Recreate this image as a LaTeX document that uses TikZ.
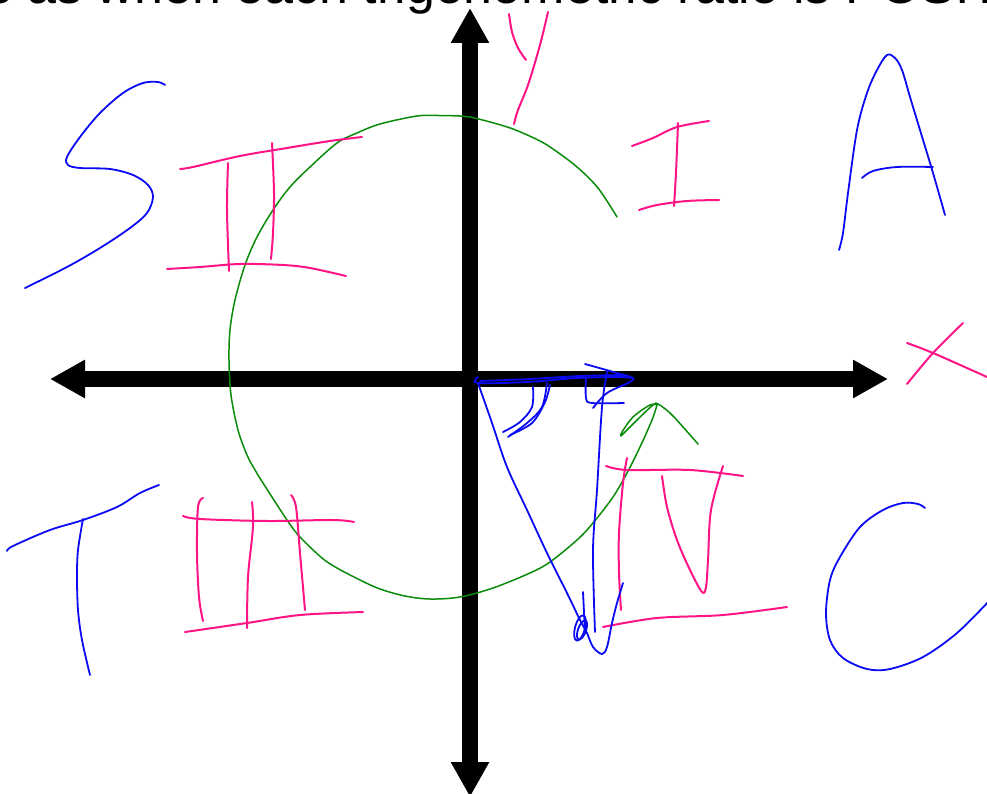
\documentclass[tikz,border=0pt]{standalone}
\usepackage{fontspec}
\setmainfont{Liberation Sans}
\usetikzlibrary{arrows.meta}
\definecolor{penpink}{RGB}{255,20,135}
\definecolor{penblue}{RGB}{10,10,245}
\definecolor{pengreen}{RGB}{10,140,10}
\tikzset{
  axis/.style={line width=16pt, -{Triangle[length=35pt,width=36pt]}},
  pinkpen/.style={draw=penpink, line width=2pt, line cap=round, line join=round},
  bluepen/.style={draw=penblue, line width=1.8pt, line cap=round, line join=round},
  greenpen/.style={draw=pengreen, line width=1.5pt, line cap=round, line join=round},
  sm/.style={smooth, tension=0.55}
}
\begin{document}
\begin{tikzpicture}[x=1pt, y=-1pt]
\useasboundingbox (0,0) rectangle (987,794);
\fill[white] (0,0) rectangle (987,794);
\clip (0,0) rectangle (987,794);

% title (cut off at top)
\node[anchor=base west, inner sep=0pt, font=\fontsize{52}{60}\selectfont] (title) at (-16,4) {e as when each trigonometric ratio is POSITIVE};

% axes
\coordinate (xl) at (50,379); \coordinate (xr) at (888,379);
\coordinate (yt) at (470,8);  \coordinate (yb) at (470,797);
\coordinate (o) at (470,379);
\draw[axis] (o) -- (xr);
\draw[axis] (o) -- (xl);
\draw[axis] (o) -- (yt);
\draw[axis] (o) -- (yb);

% green circle
\draw[greenpen] plot[sm] coordinates {(617,217) (598,188) (577,167) (553,149) (538,140) (513,129) (490,122) (470,117) (460,116) (438,115.5) (417,116) (380,124) (357,133) (337,143) (310,167) (290,187) (273,210) (257,237) (245,265) (235,300) (230,330) (229,360) (231,395) (238,430) (247,455) (255,470) (263,483) (287,520) (300,537) (322,558) (337,568) (360,580) (380,589) (405,596) (430,599) (460,597) (493,588) (530,573) (550,562) (577,540) (593,523) (613,497) (627,473) (640,447) (652,420) (657,405)};
\draw[greenpen] plot[sm] coordinates {(657,405) (650,405) (633,417) (622,432) (621,436) (624,433) (637,420) (653,405) (658,404) (670,413) (683,427) (698,444)};

% S
\draw[bluepen] plot[sm] coordinates {(165,85) (158,82) (143,83) (123,93) (100,113) (80,137) (67,157) (68,165) (80,168) (110,169) (133,175) (148,185) (153,197) (147,213) (130,228) (100,248) (67,267) (25,288)};

% II
\draw[pinkpen] plot[sm] coordinates {(180,169) (193,167) (240,156) (287,148) (330,141) (362,137)};
\draw[pinkpen] plot[sm] coordinates {(167,269) (200,267) (240,264) (283,265) (310,268) (346,276)};
\draw[pinkpen] plot[sm] coordinates {(228,163) (227,210) (229,271)};
\draw[pinkpen] plot[sm] coordinates {(272,143) (274,193) (273,233) (271,259)};

% y
\draw[pinkpen] plot[sm] coordinates {(509,14) (512,32) (518,48) (526,60)};
\draw[pinkpen] plot[sm] coordinates {(548,12) (540,45) (528,85) (518,110) (514,124)};

% I
\draw[pinkpen] plot[sm] coordinates {(632,146) (653,138) (677,127) (709,121)};
\draw[pinkpen] plot[sm] coordinates {(639,210) (657,205) (687,201) (719,200)};
\draw[pinkpen] plot[sm] coordinates {(678,123) (676,173) (674,206)};

% A
\draw[bluepen] plot[sm] coordinates {(839,250) (843,233) (848,193) (857,130) (867,93) (877,70) (887,55) (895,58) (902,70) (910,97) (920,130) (933,173) (945,215)};
\draw[bluepen] plot[sm] coordinates {(862,178) (873,171) (897,167) (933,167)};

% x
\draw[pinkpen] plot[sm] coordinates {(963,323) (933,353) (907,384)};
\draw[pinkpen] plot[sm] coordinates {(907,343) (933,353) (987,377)};

% C
\draw[bluepen] plot[sm] coordinates {(925,508) (918,504) (903,503) (883,510) (860,527) (840,557) (830,580) (826,613) (830,640) (843,658) (867,669) (890,669) (923,657) (957,633) (990,600)};

% T
\draw[bluepen] plot[sm] coordinates {(7,551) (13,546) (50,530) (83,520) (117,507) (140,493) (159,485)};
\draw[bluepen] plot[sm] coordinates {(83,519) (78,550) (77,577) (78,610) (82,640) (90,675)};

% III
\draw[pinkpen] plot[sm] coordinates {(183,516) (200,519) (267,521) (333,520) (354,522)};
\draw[pinkpen] plot[sm] coordinates {(185,632) (247,623) (300,615) (363,612)};
\draw[pinkpen] plot[sm] coordinates {(203,498) (198,507) (197,553) (199,597) (203,621)};
\draw[pinkpen] plot[sm] coordinates {(252,502) (253,527) (248,577) (247,628)};
\draw[pinkpen] plot[sm] coordinates {(291,495) (296,507) (300,553) (305,610)};

% IV
\draw[pinkpen] plot[sm] coordinates {(606,466) (627,470) (690,470) (743,476)};
\draw[pinkpen] plot[sm] coordinates {(627,458) (623,483) (619,533) (619,573) (621,610)};
\draw[pinkpen] plot[sm] coordinates {(662,476) (667,507) (677,540) (690,570) (702,592) (706,587) (708,560) (711,510) (723,466)};
\draw[pinkpen] plot[sm] coordinates {(603,627) (657,618) (723,615) (787,607)};

% blue triangle sketch
\draw[bluepen] plot[sm] coordinates {(478,377) (478,383) (527,382) (577,378) (620,377) (632,378)};
\draw[bluepen] plot[sm] coordinates {(480,381) (530,379) (580,376) (625,375)};
\draw[bluepen] plot[sm] coordinates {(585,364) (617,373) (633,378) (628,383) (607,393) (593,408)};
\draw[bluepen] plot[sm] coordinates {(586,377) (586,398) (592,403) (624,403)};
\draw[bluepen] plot[sm] coordinates {(607,372) (602,407) (597,490) (593,550) (595,632)};
\draw[bluepen] plot[sm] coordinates {(478,383) (492,423) (507,467) (527,510) (547,553) (567,593) (580,620) (587,633) (593,647) (602,654) (607,647) (612,623) (617,603) (623,583)};
\draw[bluepen] plot[sm] coordinates {(583,592) (584,612) (585,633)};
\draw[bluepen, rotate around={-15:(580,628)}] (580,628) ellipse (5 and 13);
\draw[bluepen, rotate around={-20:(582,630)}] (582,630) ellipse (4 and 10);
\draw[bluepen] plot[sm] coordinates {(533,387) (532,407) (520,422) (503,432)};
\draw[bluepen] plot[sm] coordinates {(547,383) (542,407) (527,423) (508,437)};
\draw[bluepen] plot[sm] coordinates {(550,385) (545,402) (532,423) (510,435)};
\end{tikzpicture}
\end{document}
